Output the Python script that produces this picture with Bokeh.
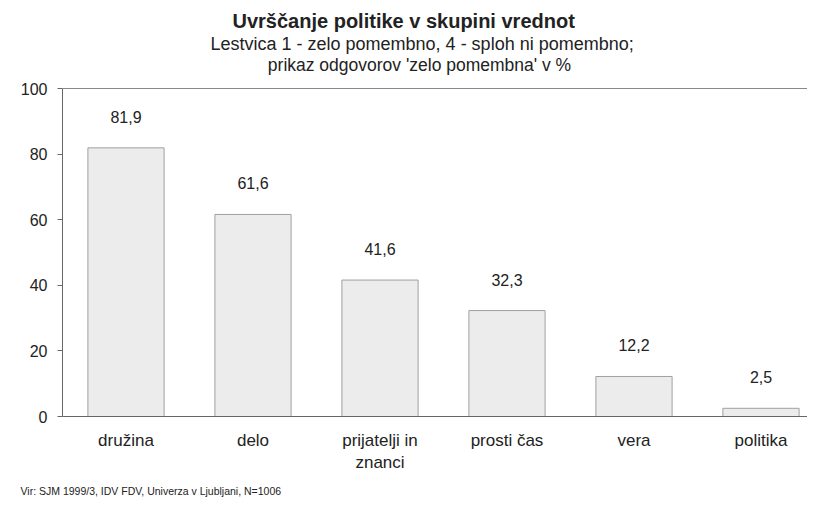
from bokeh.plotting import figure
from bokeh.models import Range1d, FixedTicker, Span, Title, Label, ColumnDataSource
from bokeh.embed import file_html
from bokeh.resources import INLINE

categories = ["družina", "delo", "prijatelji in\nznanci", "prosti čas", "vera", "politika"]
values = [81.9, 61.6, 41.6, 32.3, 12.2, 2.5]
value_labels = ["81,9", "61,6", "41,6", "32,3", "12,2", "2,5"]
y_ticks = [0, 20, 40, 60, 80, 100]

title_text = "Uvrščanje politike v skupini vrednot"
subtitle1 = "Lestvica 1 - zelo pomembno, 4 - sploh ni pomembno;"
subtitle2 = "prikaz odgovorov 'zelo pomembna' v %"
source_text = "Vir: SJM 1999/3, IDV FDV, Univerza v Ljubljani,  N=1006"

FONT = "Liberation Sans"
TXT = "#222222"
W, H = 807, 505
FRAME_LEFT, FRAME_TOP, FRAME_BOTTOM = 62, 53, 416
PX_PER_UNIT = (416 - 88) / 100.0   # the 0..100 scale spans pixels 88..416

positions = [i + 0.5 for i in range(len(categories))]
src = ColumnDataSource(dict(x=positions, top=values, lab=value_labels))

p = figure(width=W, height=H, output_backend="svg", toolbar_location=None,
           x_range=Range1d(0, 745 / 127),
           y_range=Range1d(0, (FRAME_BOTTOM - FRAME_TOP) / PX_PER_UNIT),
           min_border_left=FRAME_LEFT, min_border_right=0, min_border_top=FRAME_TOP,
           min_border_bottom=H - FRAME_BOTTOM)
p.outline_line_color = None
p.grid.grid_line_color = None
p.background_fill_color = "white"
p.border_fill_color = "white"

p.vbar(x="x", top="top", bottom=0, width=0.6, source=src,
       fill_color="#ececec", line_color="#a0a0a0", line_width=1)

p.text(x="x", y="top", text="lab", source=src, y_offset=-31,
       text_align="center", text_baseline="middle", text_font_size="16px",
       text_color=TXT, text_font={"value": FONT})

p.add_layout(Span(location=100, dimension="width", line_color="#888888", line_width=1))

# y axis
p.yaxis.ticker = FixedTicker(ticks=y_ticks)
p.yaxis.bounds = (0, 100)
p.yaxis.axis_line_color = "#666666"
p.yaxis.major_tick_line_color = "#666666"
p.yaxis.major_tick_out = 5
p.yaxis.major_tick_in = 0
p.yaxis.minor_tick_line_color = None
p.yaxis.major_label_text_font_size = "16px"
p.yaxis.major_label_text_font = FONT
p.yaxis.major_label_text_color = TXT
p.yaxis.major_label_standoff = 10

# x axis
p.xaxis.ticker = FixedTicker(ticks=positions)
p.xaxis.major_label_overrides = {pos: c for pos, c in zip(positions, categories)}
p.xaxis.axis_line_color = "#666666"
p.xaxis.major_tick_line_color = None
p.xaxis.minor_tick_line_color = None
p.xaxis.major_label_text_font_size = "17px"
p.xaxis.major_label_text_font = FONT
p.xaxis.major_label_text_color = TXT
p.xaxis.major_label_standoff = 8

# titles: first added sits closest to the frame; offsets are from the frame's left edge
p.title.text = ""
p.add_layout(Title(text=subtitle1, align="left", offset=210 - FRAME_LEFT, standoff=0,
                   text_font=FONT, text_font_size="18px", text_font_style="normal",
                   text_color=TXT), "above")
p.add_layout(Title(text=title_text, align="left", offset=232 - FRAME_LEFT, standoff=0,
                   text_font=FONT, text_font_size="20px", text_font_style="bold",
                   text_color=TXT), "above")
p.add_layout(Title(text=source_text, align="left", offset=20 - FRAME_LEFT, standoff=15,
                   text_font=FONT, text_font_size="10.5px", text_font_style="normal",
                   text_color=TXT), "below")
# second subtitle line sits inside the (taller) frame, above the 100 line
p.add_layout(Label(x=419 - FRAME_LEFT, y=FRAME_BOTTOM - 64, x_units="screen", y_units="screen",
                   text=subtitle2, text_align="center", text_baseline="middle",
                   text_font=FONT, text_font_size="17.5px", text_color=TXT))

open("out.html", "w").write(file_html(p, INLINE))
